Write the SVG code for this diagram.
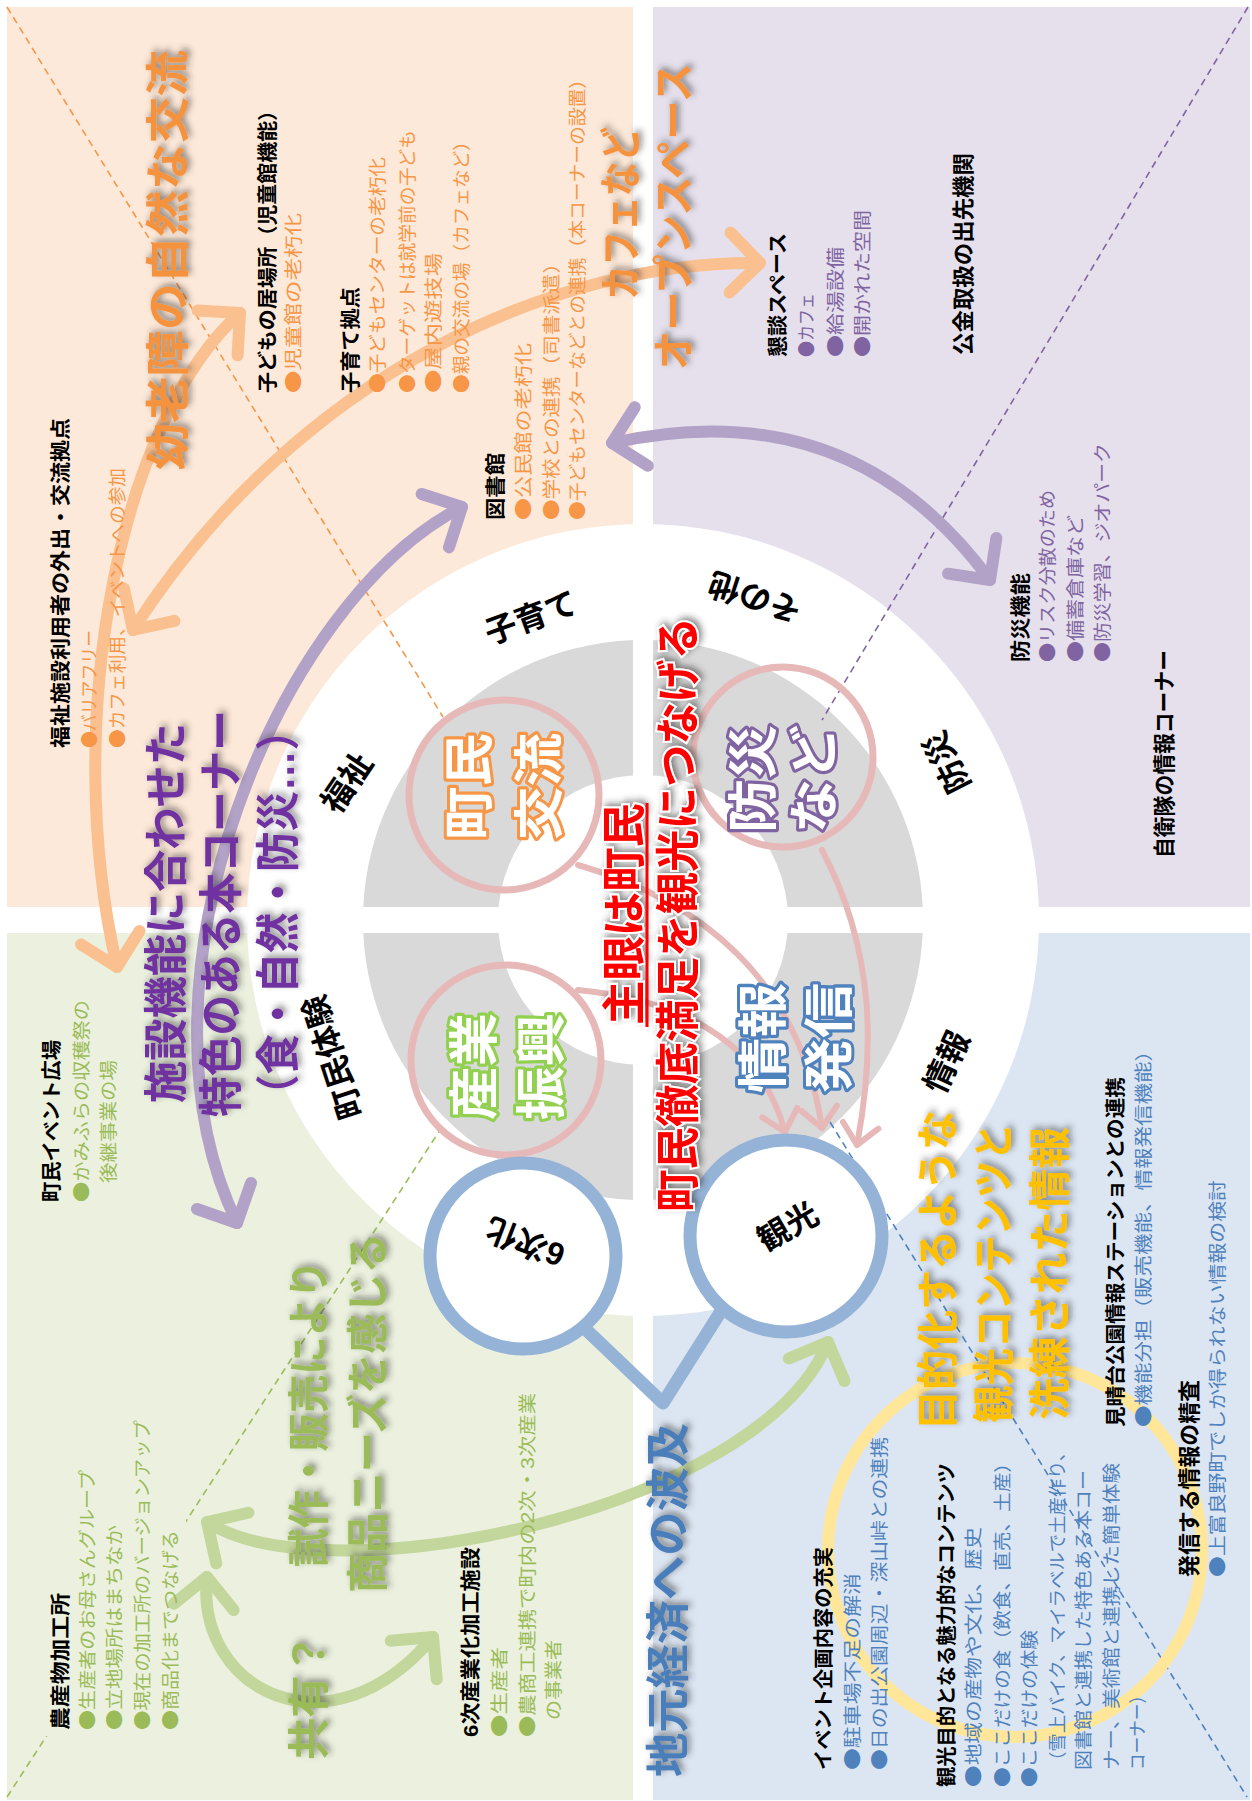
<svg xmlns="http://www.w3.org/2000/svg" width="1252" height="1801" viewBox="0 0 1252 1801">
<defs>
<style>
text{font-family:"Liberation Sans","Noto Sans CJK JP",sans-serif}
.dot{font-family:"Noto Sans CJK JP",sans-serif}
.h{font-size:20px;font-weight:bold;fill:#000}
.h22{font-size:22px;font-weight:bold;fill:#000}
.bo{font-size:18px;fill:#F79646}
.bp{font-size:18px;fill:#8064A2}
.bg{font-size:18px;fill:#9BBB59}
.bb{font-size:18px;fill:#4F81BD}
.big{font-size:42px;font-weight:bold;filter:url(#sh)}
.big44{font-size:44px;font-weight:bold;filter:url(#sh)}
.ring{font-size:32px;font-weight:bold;fill:#000;text-anchor:middle;dominant-baseline:central}
.node{font-size:50px;font-weight:bold;fill:#fff;stroke-width:6px;stroke-linejoin:round;paint-order:stroke}
.red{font-size:44px;font-weight:bold;fill:#FF0000;stroke:#fff;stroke-width:4px;paint-order:stroke;filter:url(#sh)}
.dash{stroke-width:1.6;stroke-dasharray:7 5;fill:none}
.arc{fill:none;stroke-width:12;stroke-linecap:round}
.pk{fill:none;stroke:#E6B9B8;stroke-width:6;stroke-linecap:round}
</style>
<filter id="sh" x="-20%" y="-20%" width="140%" height="140%">
<feDropShadow dx="3" dy="3" stdDeviation="3" flood-color="#303030" flood-opacity="0.55"/>
</filter>
<marker id="aO" markerUnits="userSpaceOnUse" orient="auto-start-reverse" overflow="visible" markerWidth="1" markerHeight="1">
<path d="M-30,-30 L0,0 L-30,30" fill="none" stroke="#FAC090" stroke-width="12" stroke-linecap="round" stroke-linejoin="round"/>
</marker>
<marker id="aP" markerUnits="userSpaceOnUse" orient="auto-start-reverse" overflow="visible" markerWidth="1" markerHeight="1">
<path d="M-30,-30 L0,0 L-30,30" fill="none" stroke="#B3A2C7" stroke-width="12" stroke-linecap="round" stroke-linejoin="round"/>
</marker>
<marker id="aG" markerUnits="userSpaceOnUse" orient="auto-start-reverse" overflow="visible" markerWidth="1" markerHeight="1">
<path d="M-30,-30 L0,0 L-30,30" fill="none" stroke="#C3D69B" stroke-width="12" stroke-linecap="round" stroke-linejoin="round"/>
</marker>
<marker id="aK" markerUnits="userSpaceOnUse" orient="auto" overflow="visible" markerWidth="1" markerHeight="1">
<path d="M-20,-18 L0,0 L-20,18" fill="none" stroke="#E6B9B8" stroke-width="6" stroke-linecap="round" stroke-linejoin="round"/>
</marker>
</defs>

<rect width="1252" height="1801" fill="#fff"/>

<!-- quadrant panels -->
<g id="panels">
<rect x="7" y="7" width="626" height="900" fill="#FDE9D9"/>
<rect x="653" y="7" width="597" height="900" fill="#E5E0EC"/>
<rect x="7" y="933" width="626" height="867" fill="#EBF1DE"/>
<rect x="653" y="933" width="597" height="867" fill="#DCE6F2"/>
</g>

<!-- concentric rings -->
<g id="rings">
<circle cx="643" cy="920" r="396" fill="#fff"/>
<circle cx="643" cy="920" r="280" fill="#D9D9D9"/>
<circle cx="643" cy="920" r="145" fill="#fff"/>
<rect x="633" y="630" width="20" height="580" fill="#fff"/>
<rect x="355" y="907" width="576" height="26" fill="#fff"/>
</g>

<!-- diagonal guide lines -->
<g id="guides">
<line class="dash" x1="7" y1="7" x2="443" y2="717" stroke="#F79646"/>
<line class="dash" x1="1248" y1="7" x2="822" y2="720" stroke="#8064A2"/>
<line class="dash" x1="7" y1="1797" x2="440" y2="1130" stroke="#9BBB59"/>
<line class="dash" x1="830" y1="1122" x2="1247" y2="1797" stroke="#4F81BD"/>
<rect x="44" y="1412" width="142" height="324" fill="#EBF1DE"/>
</g>

<g id="connectors">
<path class="pk" d="M578 865 C700 900 800 980 822 1128" marker-end="url(#aK)"/>
<path class="pk" d="M578 990 C680 1000 760 1040 785 1132" marker-end="url(#aK)"/>
<path class="pk" d="M822 850 C875 950 875 1050 857 1145" marker-end="url(#aK)"/>
<path d="M555 1300 L663 1403 L728 1300" fill="none" stroke="#95B3D7" stroke-width="13" stroke-linejoin="round"/>
<path class="arc" stroke="#FAC090" d="M760 263 C560 260 300 370 133 630" marker-start="url(#aO)" marker-end="url(#aO)"/>
<path class="arc" stroke="#FAC090" d="M240 313 C120 420 60 720 117 967" marker-start="url(#aO)" marker-end="url(#aO)"/>
<path class="arc" stroke="#B3A2C7" d="M462 507 C280 600 120 980 237 1223" marker-start="url(#aP)" marker-end="url(#aP)"/>
<path class="arc" stroke="#B3A2C7" d="M612 443 Q850 390 990 580" marker-start="url(#aP)" marker-end="url(#aP)"/>
<path class="arc" stroke="#C3D69B" d="M207 1522 C330 1600 760 1510 828 1342" marker-start="url(#aG)" marker-end="url(#aG)"/>
<path class="arc" stroke="#C3D69B" d="M207 1577 C195 1690 330 1760 433 1637" marker-start="url(#aG)" marker-end="url(#aG)"/>
</g>

<!-- core nodes -->
<g id="node-koryu">
<circle cx="504" cy="795" r="95" fill="none" stroke="#E6B9B8" stroke-width="7"/>
<text class="node" stroke="#F79646" transform="translate(487,840) rotate(-90)" textLength="107" lengthAdjust="spacingAndGlyphs">町民</text>
<text class="node" stroke="#F79646" transform="translate(557,840) rotate(-90)" textLength="107" lengthAdjust="spacingAndGlyphs">交流</text>
</g>
<g id="node-bosai">
<circle cx="783" cy="757" r="90" fill="none" stroke="#E6B9B8" stroke-width="7"/>
<text class="node" stroke="#8064A2" transform="translate(771,833) rotate(-90)" textLength="108" lengthAdjust="spacingAndGlyphs">防災</text>
<text class="node" stroke="#8064A2" transform="translate(832,833) rotate(-90)" textLength="108" lengthAdjust="spacingAndGlyphs">など</text>
</g>
<g id="node-sangyo">
<circle cx="506" cy="1060" r="95" fill="none" stroke="#E6B9B8" stroke-width="7"/>
<text class="node" stroke="#92D050" transform="translate(492,1120) rotate(-90)" textLength="107" lengthAdjust="spacingAndGlyphs">産業</text>
<text class="node" stroke="#92D050" transform="translate(559,1120) rotate(-90)" textLength="107" lengthAdjust="spacingAndGlyphs">振興</text>
</g>
<g id="node-joho">
<text class="node" stroke="#4F81BD" transform="translate(781,1093) rotate(-90)" textLength="110" lengthAdjust="spacingAndGlyphs">情報</text>
<text class="node" stroke="#4F81BD" transform="translate(847,1093) rotate(-90)" textLength="110" lengthAdjust="spacingAndGlyphs">発信</text>
</g>
<g id="node-kanko">
<circle cx="786" cy="1236" r="96" fill="#fff" stroke="#95B3D7" stroke-width="13"/>
<text class="ring" font-size="34" transform="translate(788,1227) rotate(-30)">観光</text>
</g>
<g id="node-6ji">
<circle cx="523" cy="1256" r="93" fill="#fff" stroke="#95B3D7" stroke-width="13"/>
<text class="ring" transform="translate(525,1242) rotate(-159)">6次化</text>
</g>
<g id="node-yellow">
<circle cx="1015" cy="1550" r="187" fill="none" stroke="#FFE699" stroke-width="12"/>
</g>

<!-- ring labels -->
<g id="ring-labels">
<text class="ring" transform="translate(347,783) rotate(-56)">福祉</text>
<text class="ring" transform="translate(531,618) rotate(-20)">子育て</text>
<text class="ring" transform="translate(755,597) rotate(-162)">その他</text>
<text class="ring" transform="translate(947,762) rotate(-117)">防災</text>
<text class="ring" transform="translate(947,1062) rotate(-65)">情報</text>
<text class="ring" transform="translate(333,1057) rotate(-108)">町民体験</text>
</g>

<!-- centre message -->
<g id="center">
<text class="red" transform="translate(640,1025) rotate(-90)" textLength="222" lengthAdjust="spacingAndGlyphs">主眼は町民</text>
<line x1="647" y1="803" x2="647" y2="1027" stroke="#FF0000" stroke-width="3"/>
<text class="red" transform="translate(694,1212) rotate(-90)" textLength="595" lengthAdjust="spacingAndGlyphs">町民徹底満足を観光につなげる</text>
</g>

<!-- welfare / child care panel -->
<g id="panel-fukushi">
<text class="big44" fill="#F5923E" transform="translate(184,470) rotate(-90)" textLength="420" lengthAdjust="spacingAndGlyphs">幼老障の自然な交流</text>
<text class="h" transform="translate(68,748) rotate(-90)" textLength="330" lengthAdjust="spacingAndGlyphs">福祉施設利用者の外出・交流拠点</text>
<text class="bo" transform="translate(96,748) rotate(-90)" textLength="118" lengthAdjust="spacingAndGlyphs"><tspan class="dot">●</tspan>バリアフリー</text>
<text class="bo" transform="translate(124,748) rotate(-90)" textLength="280" lengthAdjust="spacingAndGlyphs"><tspan class="dot">●</tspan>カフェ利用、イベントへの参加</text>
<text class="h" transform="translate(275,393) rotate(-90)" textLength="293" lengthAdjust="spacingAndGlyphs">子どもの居場所（児童館機能）</text>
<text class="bo" font-size="19" transform="translate(300,393) rotate(-90)" textLength="180" lengthAdjust="spacingAndGlyphs"><tspan class="dot">●</tspan>児童館の老朽化</text>
<text class="h" transform="translate(358,393) rotate(-90)" textLength="106" lengthAdjust="spacingAndGlyphs">子育て拠点</text>
<text class="bo" font-size="19" transform="translate(384,393) rotate(-90)" textLength="236" lengthAdjust="spacingAndGlyphs"><tspan class="dot">●</tspan>子どもセンターの老朽化</text>
<text class="bo" font-size="19" transform="translate(414,393) rotate(-90)" textLength="263" lengthAdjust="spacingAndGlyphs"><tspan class="dot">●</tspan>ターゲットは就学前の子ども</text>
<text class="bo" font-size="19" transform="translate(440,393) rotate(-90)" textLength="140" lengthAdjust="spacingAndGlyphs"><tspan class="dot">●</tspan>屋内遊技場</text>
<text class="bo" font-size="19" transform="translate(468,393) rotate(-90)" textLength="261" lengthAdjust="spacingAndGlyphs"><tspan class="dot">●</tspan>親の交流の場（カフェなど）</text>
<text class="h" transform="translate(503,520) rotate(-90)" textLength="67" lengthAdjust="spacingAndGlyphs">図書館</text>
<text class="bo" font-size="19" transform="translate(530,520) rotate(-90)" textLength="177" lengthAdjust="spacingAndGlyphs"><tspan class="dot">●</tspan>公民館の老朽化</text>
<text class="bo" font-size="19" transform="translate(558,520) rotate(-90)" textLength="267" lengthAdjust="spacingAndGlyphs"><tspan class="dot">●</tspan>学校との連携（司書派遣）</text>
<text class="bo" font-size="19" transform="translate(584,520) rotate(-90)" textLength="450" lengthAdjust="spacingAndGlyphs"><tspan class="dot">●</tspan>子どもセンターなどとの連携（本コーナーの設置）</text>
<text class="big" fill="#F5923E" transform="translate(636,300) rotate(-90)" textLength="173" lengthAdjust="spacingAndGlyphs">カフェなど</text>
<text class="big" fill="#F5923E" transform="translate(689,370) rotate(-90)" textLength="307" lengthAdjust="spacingAndGlyphs">オープンスペース</text>
</g>

<!-- disaster / other panel -->
<g id="panel-bosai">
<text class="h" transform="translate(785,357) rotate(-90)" textLength="124" lengthAdjust="spacingAndGlyphs">懇談スペース</text>
<text class="bp" transform="translate(813,357) rotate(-90)" textLength="64" lengthAdjust="spacingAndGlyphs"><tspan class="dot">●</tspan>カフェ</text>
<text class="bp" transform="translate(842,357) rotate(-90)" textLength="110" lengthAdjust="spacingAndGlyphs"><tspan class="dot">●</tspan>給湯設備</text>
<text class="bp" transform="translate(869,357) rotate(-90)" textLength="147" lengthAdjust="spacingAndGlyphs"><tspan class="dot">●</tspan>開かれた空間</text>
<text class="h22" transform="translate(971,355) rotate(-90)" textLength="202" lengthAdjust="spacingAndGlyphs">公金取扱の出先機関</text>
<text class="h" transform="translate(1028,662) rotate(-90)" textLength="89" lengthAdjust="spacingAndGlyphs">防災機能</text>
<text class="bp" transform="translate(1054,662) rotate(-90)" textLength="172" lengthAdjust="spacingAndGlyphs"><tspan class="dot">●</tspan>リスク分散のため</text>
<text class="bp" transform="translate(1082,662) rotate(-90)" textLength="147" lengthAdjust="spacingAndGlyphs"><tspan class="dot">●</tspan>備蓄倉庫など</text>
<text class="bp" transform="translate(1109,662) rotate(-90)" textLength="219" lengthAdjust="spacingAndGlyphs"><tspan class="dot">●</tspan>防災学習、ジオパーク</text>
<text class="h22" transform="translate(1172,858) rotate(-90)" textLength="208" lengthAdjust="spacingAndGlyphs">自衛隊の情報コーナー</text>
</g>

<!-- town experience panel -->
<g id="panel-taiken">
<text class="h" transform="translate(59,1202) rotate(-90)" textLength="162" lengthAdjust="spacingAndGlyphs">町民イベント広場</text>
<text class="bg" transform="translate(88,1202) rotate(-90)" textLength="202" lengthAdjust="spacingAndGlyphs"><tspan class="dot">●</tspan>かみふらの収穫祭の</text>
<text class="bg" transform="translate(115,1183) rotate(-90)" textLength="123" lengthAdjust="spacingAndGlyphs">後継事業の場</text>
<text class="h" transform="translate(68,1730) rotate(-90)" textLength="137" lengthAdjust="spacingAndGlyphs">農産物加工所</text>
<text class="bg" transform="translate(94,1730) rotate(-90)" textLength="260" lengthAdjust="spacingAndGlyphs"><tspan class="dot">●</tspan>生産者のお母さんグループ</text>
<text class="bg" transform="translate(121,1730) rotate(-90)" textLength="205" lengthAdjust="spacingAndGlyphs"><tspan class="dot">●</tspan>立地場所はまちなか</text>
<text class="bg" transform="translate(149,1730) rotate(-90)" textLength="310" lengthAdjust="spacingAndGlyphs"><tspan class="dot">●</tspan>現在の加工所のバージョンアップ</text>
<text class="bg" transform="translate(177,1730) rotate(-90)" textLength="200" lengthAdjust="spacingAndGlyphs"><tspan class="dot">●</tspan>商品化までつなげる</text>
<text class="big" fill="#9BBB59" transform="translate(324,1567) rotate(-90)" textLength="307" lengthAdjust="spacingAndGlyphs">試作・販売により</text>
<text class="big" fill="#9BBB59" transform="translate(383,1593) rotate(-90)" textLength="360" lengthAdjust="spacingAndGlyphs">商品ニーズを感じる</text>
<text class="big" fill="#9BBB59" transform="translate(324,1760) rotate(-90)" textLength="127" lengthAdjust="spacingAndGlyphs">共有？</text>
<text class="h" transform="translate(478,1737) rotate(-90)" textLength="190" lengthAdjust="spacingAndGlyphs">6次産業化加工施設</text>
<text class="bg" transform="translate(506,1737) rotate(-90)" textLength="90" lengthAdjust="spacingAndGlyphs"><tspan class="dot">●</tspan>生産者</text>
<text class="bg" transform="translate(534,1737) rotate(-90)" textLength="344" lengthAdjust="spacingAndGlyphs"><tspan class="dot">●</tspan>農商工連携で町内の2次・3次産業</text>
<text class="bg" transform="translate(560,1720) rotate(-90)" textLength="80" lengthAdjust="spacingAndGlyphs">の事業者</text>
<text class="big44" fill="#7030A0" transform="translate(182,1103) rotate(-90)" textLength="380" lengthAdjust="spacingAndGlyphs">施設機能に合わせた</text>
<text class="big44" fill="#7030A0" transform="translate(237,1117) rotate(-90)" textLength="407" lengthAdjust="spacingAndGlyphs">特色のある本コーナー</text>
<text class="big44" fill="#7030A0" transform="translate(294,1115) rotate(-90)" textLength="405" lengthAdjust="spacingAndGlyphs">（食・自然・防災…）</text>
</g>

<!-- information / tourism panel -->
<g id="panel-joho">
<text class="big44" fill="#4A7EBB" transform="translate(684,1777) rotate(-90)" textLength="354" lengthAdjust="spacingAndGlyphs">地元経済への波及</text>
<text class="big" fill="#FFC000" transform="translate(953,1430) rotate(-90)" textLength="320" lengthAdjust="spacingAndGlyphs">目的化するような</text>
<text class="big" fill="#FFC000" transform="translate(1009,1423) rotate(-90)" textLength="300" lengthAdjust="spacingAndGlyphs">観光コンテンツと</text>
<text class="big" fill="#FFC000" transform="translate(1065,1420) rotate(-90)" textLength="293" lengthAdjust="spacingAndGlyphs">洗練された情報</text>
<text class="h" transform="translate(1123,1427) rotate(-90)" textLength="350" lengthAdjust="spacingAndGlyphs">見晴台公園情報ステーションとの連携</text>
<text class="bb" transform="translate(1150,1427) rotate(-90)" textLength="387" lengthAdjust="spacingAndGlyphs"><tspan class="dot">●</tspan>機能分担（販売機能、情報発信機能）</text>
<text class="h22" transform="translate(1197,1577) rotate(-90)" textLength="197" lengthAdjust="spacingAndGlyphs">発信する情報の精査</text>
<text class="bb" transform="translate(1224,1577) rotate(-90)" textLength="397" lengthAdjust="spacingAndGlyphs"><tspan class="dot">●</tspan>上富良野町でしか得られない情報の検討</text>
<text class="h" transform="translate(831,1770) rotate(-90)" textLength="223" lengthAdjust="spacingAndGlyphs">イベント企画内容の充実</text>
<text class="bb" transform="translate(859,1770) rotate(-90)" textLength="197" lengthAdjust="spacingAndGlyphs"><tspan class="dot">●</tspan>駐車場不足の解消</text>
<text class="bb" transform="translate(886,1770) rotate(-90)" textLength="333" lengthAdjust="spacingAndGlyphs"><tspan class="dot">●</tspan>日の出公園周辺・深山峠との連携</text>
<text class="h" transform="translate(954,1787) rotate(-90)" textLength="324" lengthAdjust="spacingAndGlyphs">観光目的となる魅力的なコンテンツ</text>
<text class="bb" transform="translate(980,1787) rotate(-90)" textLength="260" lengthAdjust="spacingAndGlyphs"><tspan class="dot">●</tspan>地域の産物や文化、歴史</text>
<text class="bb" transform="translate(1009,1787) rotate(-90)" textLength="334" lengthAdjust="spacingAndGlyphs"><tspan class="dot">●</tspan>ここだけの食（飲食、直売、土産）</text>
<text class="bb" transform="translate(1036,1787) rotate(-90)" textLength="157" lengthAdjust="spacingAndGlyphs"><tspan class="dot">●</tspan>ここだけの体験</text>
<text class="bb" transform="translate(1064,1770) rotate(-90)" textLength="327" lengthAdjust="spacingAndGlyphs">（雪上バイク、マイラベルで土産作り、</text>
<text class="bb" transform="translate(1090,1770) rotate(-90)" textLength="300" lengthAdjust="spacingAndGlyphs">図書館と連携した特色ある本コー</text>
<text class="bb" transform="translate(1118,1770) rotate(-90)" textLength="307" lengthAdjust="spacingAndGlyphs">ナー、美術館と連携した簡単体験</text>
<text class="bb" transform="translate(1144,1770) rotate(-90)" textLength="83" lengthAdjust="spacingAndGlyphs">コーナー）</text>
</g>
</svg>
